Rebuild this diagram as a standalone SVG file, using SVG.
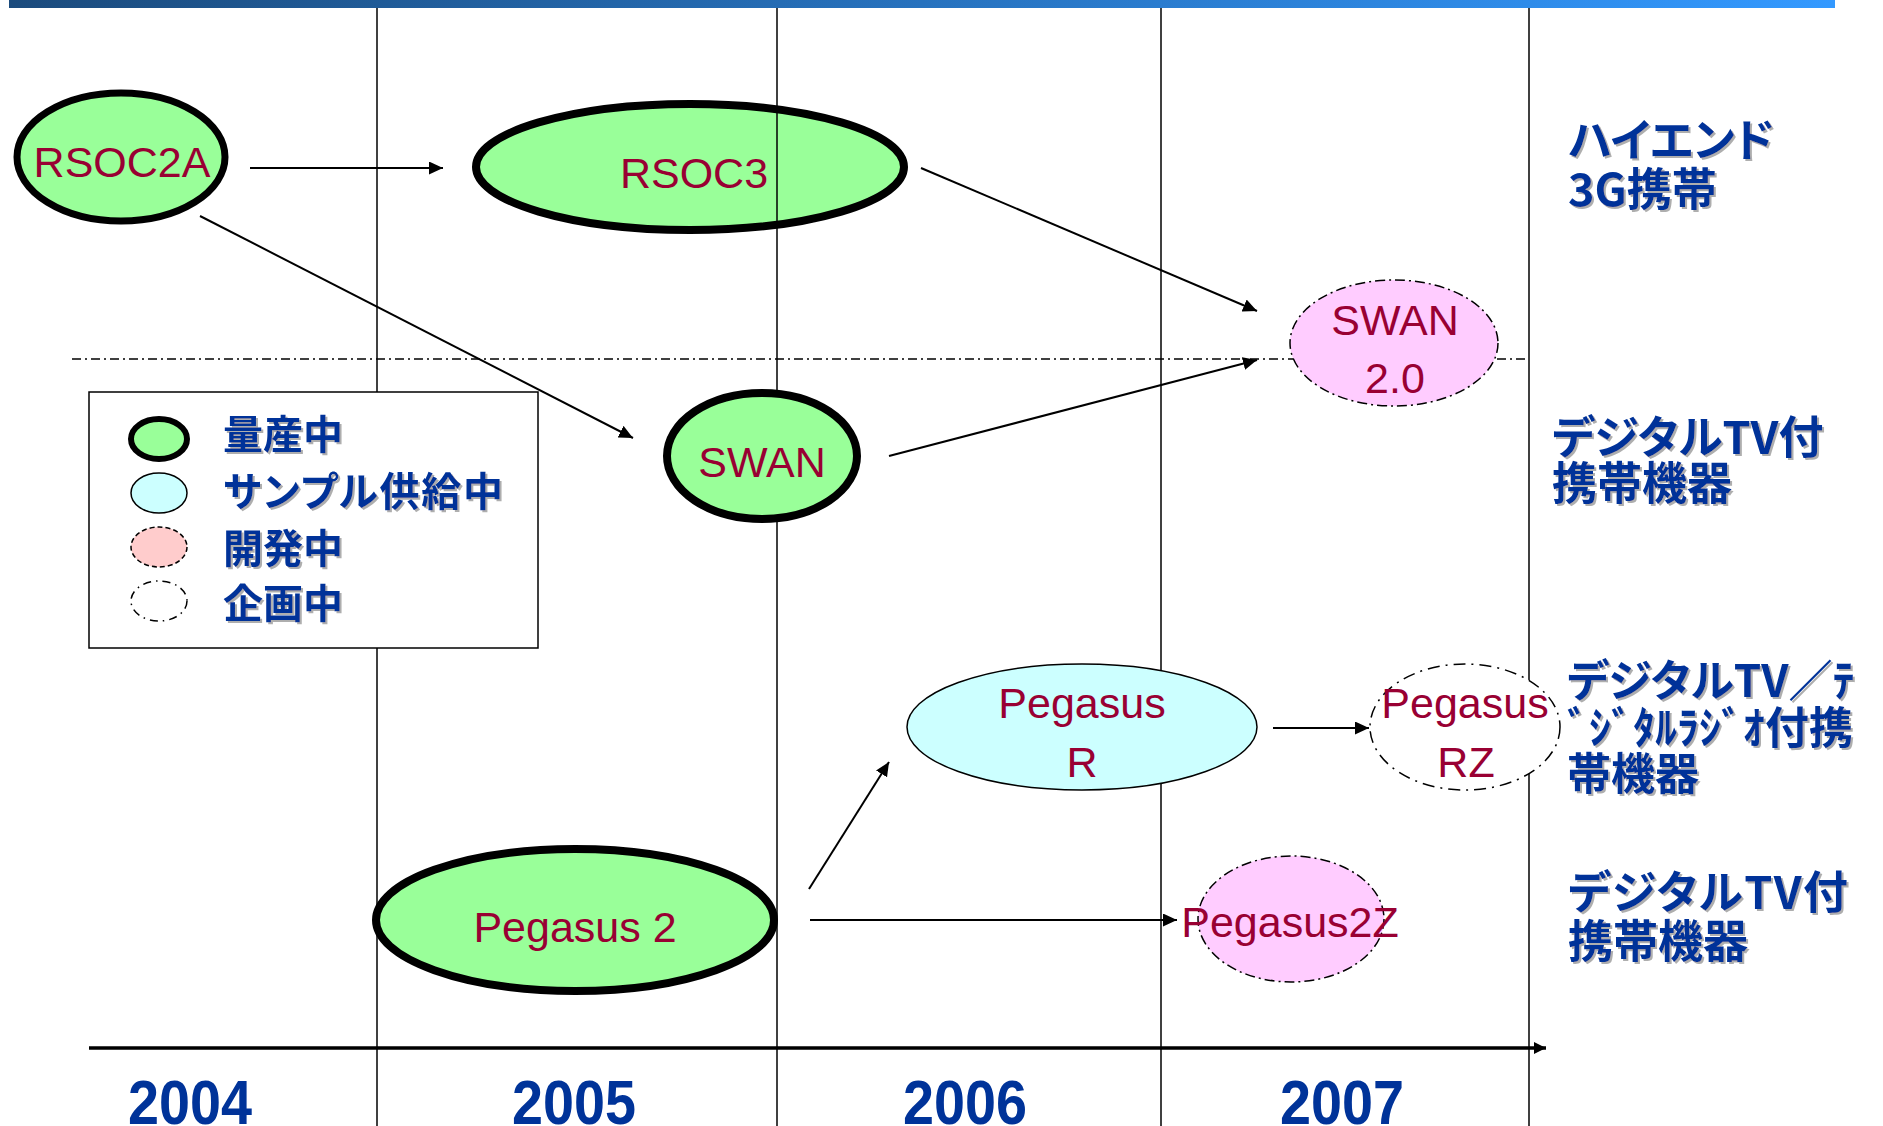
<svg xmlns="http://www.w3.org/2000/svg" width="1883" height="1126" viewBox="0 0 1883 1126">
<style>
.bg{fill:#ffffff}
.grid{stroke:#000;stroke-width:1.5;fill:none}
.sep{stroke:#000;stroke-width:1.5;stroke-dasharray:9 4 2 4;fill:none}
.axis{stroke:#000;stroke-width:3.5;fill:none}
.conn{stroke:#000;stroke-width:2;fill:none}
.mass{fill:#99ff99;stroke:#000;stroke-width:8}
.sample{fill:#ccffff;stroke:#000;stroke-width:1.5}
.dev{fill:#ffccff;stroke:#000;stroke-width:1.5;stroke-dasharray:10 4 2 4}
.plan{fill:#ffffff;stroke:#000;stroke-width:1.5;stroke-dasharray:12 6 2 6}
.lbl{font-family:"Liberation Sans",Arial,sans-serif;font-size:43px;fill:#990033;text-anchor:middle}
.jp{font-family:"Noto Sans CJK JP","Noto Sans",sans-serif;font-weight:bold;fill:#003399;font-feature-settings:"palt"}
.year{font-family:"Liberation Sans",Arial,sans-serif;font-weight:bold;font-size:63px;fill:#003399;text-anchor:middle}
</style>
<defs>
<linearGradient id="bar" x1="0" y1="0" x2="1" y2="0">
<stop offset="0" stop-color="#1b4b7d"/>
<stop offset="1" stop-color="#3399ff"/>
</linearGradient>
<filter id="sh" x="-5%" y="-10%" width="115%" height="130%">
<feDropShadow dx="2" dy="2" stdDeviation="0.6" flood-color="#9a9a9a" flood-opacity="0.8"/>
</filter>
<marker id="ah" markerUnits="userSpaceOnUse" markerWidth="14" markerHeight="13" refX="14" refY="6.5" orient="auto">
<path d="M0,0 L14,6.5 L0,13 z" fill="#000"/>
</marker>
<marker id="axh" markerUnits="userSpaceOnUse" markerWidth="12" markerHeight="12" refX="12" refY="6" orient="auto">
<path d="M0,0 L12,6 L0,12 z" fill="#000"/>
</marker>
</defs>
<rect class="bg" x="0" y="0" width="1883" height="1126"/>
<rect x="9" y="0" width="1826" height="8" fill="url(#bar)"/>

<g id="node-rsoc3">
<ellipse class="mass" cx="690" cy="167" rx="214" ry="63"/>
<text class="lbl" x="694" y="188">RSOC3</text>
</g>

<g id="grid">
<line class="grid" x1="377" y1="8" x2="377" y2="1126"/>
<line class="grid" x1="777" y1="8" x2="777" y2="1126"/>
<line class="grid" x1="1161" y1="8" x2="1161" y2="1126"/>
<line class="grid" x1="1529" y1="8" x2="1529" y2="1126"/>
<line class="sep" x1="72" y1="359" x2="1529" y2="359"/>
<line class="axis" x1="89" y1="1048" x2="1546" y2="1048" marker-end="url(#axh)"/>
</g>

<g id="connectors">
<line class="conn" x1="250" y1="168" x2="443" y2="168" marker-end="url(#ah)"/>
<line class="conn" x1="200" y1="216" x2="633" y2="438" marker-end="url(#ah)"/>
<line class="conn" x1="921" y1="168" x2="1257" y2="311" marker-end="url(#ah)"/>
<line class="conn" x1="889" y1="456" x2="1257" y2="360" marker-end="url(#ah)"/>
<line class="conn" x1="809" y1="889" x2="889" y2="762" marker-end="url(#ah)"/>
<line class="conn" x1="810" y1="920" x2="1177" y2="920" marker-end="url(#ah)"/>
<line class="conn" x1="1273" y1="728" x2="1369" y2="728" marker-end="url(#ah)"/>
</g>

<g id="node-rsoc2a">
<ellipse class="mass" cx="121" cy="157" rx="104" ry="64" style="stroke-width:7"/>
<text class="lbl" x="122" y="177">RSOC2A</text>
</g>
<g id="node-swan">
<ellipse class="mass" cx="762" cy="456" rx="95" ry="63"/>
<text class="lbl" x="762" y="477">SWAN</text>
</g>
<g id="node-swan20">
<ellipse class="dev" cx="1394" cy="343" rx="104" ry="63"/>
<text class="lbl" x="1395" y="335">SWAN</text>
<text class="lbl" x="1395" y="393">2.0</text>
</g>
<g id="node-pegasus2">
<ellipse class="mass" cx="575" cy="920" rx="199" ry="71"/>
<text class="lbl" x="575" y="942">Pegasus 2</text>
</g>
<g id="node-pegasusr">
<ellipse class="sample" cx="1082" cy="727" rx="175" ry="63"/>
<text class="lbl" x="1082" y="718">Pegasus</text>
<text class="lbl" x="1082" y="777">R</text>
</g>
<g id="node-pegasusrz">
<ellipse class="plan" cx="1465" cy="727" rx="95" ry="63"/>
<text class="lbl" x="1465" y="718">Pegasus</text>
<text class="lbl" x="1466" y="777">RZ</text>
</g>
<g id="node-pegasus2z">
<ellipse class="dev" cx="1291" cy="919" rx="93" ry="63"/>
<text class="lbl" x="1290" y="937">Pegasus2Z</text>
</g>

<g id="legend">
<rect x="89" y="392" width="449" height="256" fill="#fff" stroke="#000" stroke-width="1.5"/>
<ellipse cx="159" cy="439" rx="28" ry="20" fill="#99ff99" stroke="#000" stroke-width="6"/>
<ellipse cx="159" cy="493" rx="28" ry="20" fill="#ccffff" stroke="#000" stroke-width="1.5"/>
<ellipse cx="159" cy="547" rx="28" ry="20" fill="#ffcccc" stroke="#000" stroke-width="1.5" stroke-dasharray="5 3"/>
<ellipse cx="159" cy="601" rx="28" ry="20" fill="#fff" stroke="#000" stroke-width="1.5" stroke-dasharray="8 5 1.5 5"/>
<text class="jp" x="223" y="449" font-size="40" filter="url(#sh)">量産中</text>
<text class="jp" x="223" y="506" font-size="40" filter="url(#sh)" textLength="280" lengthAdjust="spacing">サンプル供給中</text>
<text class="jp" x="223" y="563" font-size="40" filter="url(#sh)">開発中</text>
<text class="jp" x="223" y="618" font-size="40" filter="url(#sh)">企画中</text>
</g>

<g id="category-labels">
<text class="jp" x="1568" y="157" font-size="45" filter="url(#sh)">ハイエンド</text>
<text class="jp" x="1568" y="206" font-size="45" filter="url(#sh)">3G携帯</text>
<text class="jp" x="1552" y="454" font-size="45" filter="url(#sh)">デジタルTV付</text>
<text class="jp" x="1552" y="500" font-size="45" filter="url(#sh)">携帯機器</text>
<text class="jp" x="1567" y="697" font-size="44" filter="url(#sh)">デジタルTV／ﾃ</text>
<text class="jp" x="1567" y="744" font-size="44" filter="url(#sh)">ﾞｼﾞﾀﾙﾗｼﾞｵ付携</text>
<text class="jp" x="1567" y="790" font-size="44" filter="url(#sh)">帯機器</text>
<text class="jp" x="1568" y="909" font-size="45" filter="url(#sh)" textLength="280" lengthAdjust="spacing">デジタルTV付</text>
<text class="jp" x="1568" y="958" font-size="45" filter="url(#sh)">携帯機器</text>
</g>

<g id="years">
<text class="year" x="190" y="1124" textLength="124" lengthAdjust="spacingAndGlyphs">2004</text>
<text class="year" x="574" y="1124" textLength="124" lengthAdjust="spacingAndGlyphs">2005</text>
<text class="year" x="965" y="1124" textLength="124" lengthAdjust="spacingAndGlyphs">2006</text>
<text class="year" x="1342" y="1124" textLength="124" lengthAdjust="spacingAndGlyphs">2007</text>
</g>
</svg>
